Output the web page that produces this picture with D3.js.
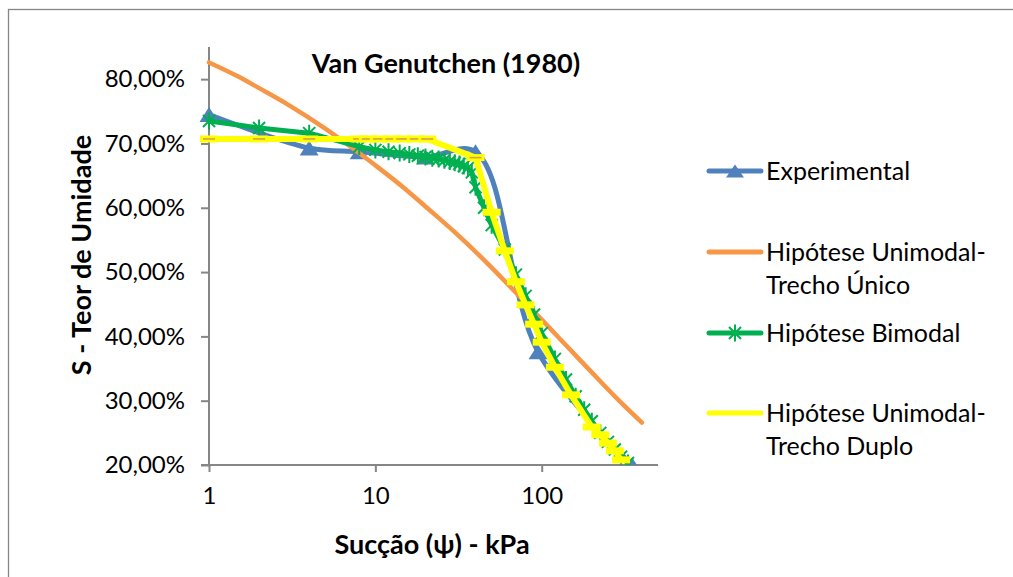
<!DOCTYPE html>
<html>
<head>
<meta charset="utf-8">
<script src="https://cdn.jsdelivr.net/npm/d3@7/dist/d3.min.js"></script>
<style>
  html, body { margin: 0; padding: 0; background: #fff; }
  svg { display: block; }
  text { font-family: Lato, "Open Sans", sans-serif; fill: #000; }
</style>
</head>
<body>
<svg id="chart" width="1013" height="577"></svg>
<script>
// Suction (kPa) and degree of saturation for each series
const kpaExp = [1, 4, 8, 20, 40, 95, 350];
const sExp   = [0.745, 0.693, 0.687, 0.679, 0.687, 0.376, 0.200];

const kpaUni = [1, 1.5, 2, 3, 5, 7, 10, 15, 20, 30, 50, 70, 100, 150, 200, 300, 400];
const sUni   = [0.826, 0.804, 0.786, 0.760, 0.723, 0.696, 0.666, 0.630, 0.602, 0.562, 0.507, 0.468, 0.426, 0.378, 0.344, 0.297, 0.266];

const kpaBim = [1, 2, 4, 8, 10, 12, 14, 16, 18, 20, 22, 24, 26, 28, 30, 32, 34, 36, 38,
                40, 45, 50, 60, 70, 80, 90, 100, 120, 140, 160, 180, 200, 225, 250, 275, 300, 330];
const sBim   = [0.735, 0.724, 0.716, 0.695, 0.690, 0.687, 0.685, 0.683, 0.681, 0.679, 0.677, 0.676, 0.674, 0.672, 0.670, 0.668, 0.665, 0.662, 0.655,
                0.632, 0.600, 0.573, 0.535, 0.496, 0.463, 0.434, 0.405, 0.365, 0.333, 0.307, 0.286, 0.268, 0.250, 0.236, 0.224, 0.213, 0.203];

const kpaDup = [1, 2, 4, 8, 9, 10.5, 12.5, 14.5, 17.5, 20.5, 40, 50, 60, 70, 80, 90, 100, 120, 150, 200, 225, 250, 275, 300];
const sDup   = [0.707, 0.707, 0.707, 0.707, 0.707, 0.707, 0.707, 0.707, 0.707, 0.707, 0.678,
                0.593, 0.533, 0.485, 0.449, 0.419, 0.391, 0.352, 0.309, 0.259, 0.247, 0.234, 0.222, 0.208];

const xTicks = [1, 10, 100];
const yTicks = [0.2, 0.3, 0.4, 0.5, 0.6, 0.7, 0.8];

const seriesNames = ["Experimental", "Hipótese Unimodal-\nTrecho Único", "Hipótese Bimodal", "Hipótese Unimodal-\nTrecho Duplo"];
const seriesColors = ["#4F81BD", "#F79646", "#00B050", "#FFFF00"];

const titleText = "Van Genutchen (1980)";
const xTitle = "Sucção (ψ) - kPa";
const yTitle = "S - Teor de Umidade";

const svg = d3.select("#chart");
const axisColor = "#868686";

// chart frame
svg.append("rect")
  .attr("x", 8.5).attr("y", 9.5)
  .attr("width", 1010).attr("height", 575)
  .attr("fill", "none").attr("stroke", axisColor).attr("stroke-width", 1.3);

const x = d3.scaleLog().domain([1, 500]).range([209, 658]);
const y = d3.scaleLinear().domain([0.2, 0.85]).range([465, 47]);

const pctFmt = v => d3.format(".2f")(v * 100).replace(".", ",") + "%";

// y axis
const yAxis = d3.axisLeft(y).tickValues(yTicks).tickSize(8).tickFormat(pctFmt).tickPadding(16);
const gy = svg.append("g").attr("transform", `translate(${x(1)},0)`).call(yAxis);
gy.select(".domain").attr("stroke", axisColor).attr("stroke-width", 2).attr("d", `M0,${y(0.85)}V${y(0.2)}`);
gy.selectAll(".tick line").attr("stroke", axisColor).attr("stroke-width", 2);
gy.selectAll(".tick text").attr("font-family", "Lato").attr("font-size", 24).attr("fill", "#000");

// x axis
const xAxis = d3.axisBottom(x).tickValues(xTicks).tickSize(7).tickFormat(d3.format("d")).tickPadding(15);
const gx = svg.append("g").attr("transform", `translate(0,${y(0.2)})`).call(xAxis);
gx.select(".domain").attr("stroke", axisColor).attr("stroke-width", 2).attr("d", `M${x(1) - 8},0H${x(500)}`);
gx.selectAll(".tick line").attr("stroke", axisColor).attr("stroke-width", 2);
gx.selectAll(".tick text").attr("font-family", "Lato").attr("font-size", 24).attr("fill", "#000");

// plotting clip
svg.append("clipPath").attr("id", "plotClip")
  .append("rect").attr("x", x(1) - 12).attr("y", y(0.85)).attr("width", x(500) - x(1) + 24).attr("height", y(0.2) - y(0.85));

const plot = svg.append("g").attr("clip-path", "url(#plotClip)");

const toPts = (ks, ss) => ks.map((k, i) => [x(k), y(ss[i])]);

const triPath = (w, h) => `M0,${-h / 2}L${w / 2},${h / 2}L${-w / 2},${h / 2}Z`;
const starPath = r => {
  const d = r * Math.cos(Math.PI / 4);
  return `M0,${-r}V${r}M${-d},${-d}L${d},${d}M${-d},${d}L${d},${-d}`;
};

// Experimental — smoothed line with triangle markers
const ptsExp = toPts(kpaExp, sExp);
plot.append("path")
  .attr("d", d3.line().curve(d3.curveCatmullRom.alpha(0.5))(ptsExp))
  .attr("fill", "none").attr("stroke", seriesColors[0]).attr("stroke-width", 5)
  .attr("stroke-linejoin", "round").attr("stroke-linecap", "round");
plot.selectAll(".tri").data(ptsExp).enter().append("path")
  .attr("transform", d => `translate(${d[0]},${d[1]})`)
  .attr("d", triPath(19, 15)).attr("fill", seriesColors[0]);

// Unimodal single stretch — smooth curve
const ptsUni = toPts(kpaUni, sUni);
plot.append("path")
  .attr("d", d3.line().curve(d3.curveMonotoneX)(ptsUni))
  .attr("fill", "none").attr("stroke", seriesColors[1]).attr("stroke-width", 4.5)
  .attr("stroke-linecap", "round");

// Bimodal — straight segments with star markers
const ptsBim = toPts(kpaBim, sBim);
plot.append("path")
  .attr("d", d3.line()(ptsBim))
  .attr("fill", "none").attr("stroke", seriesColors[2]).attr("stroke-width", 5)
  .attr("stroke-linejoin", "round").attr("stroke-linecap", "round");
plot.selectAll(".star").data(ptsBim).enter().append("path")
  .attr("transform", d => `translate(${d[0]},${d[1]})`)
  .attr("d", starPath(8.5)).attr("fill", "none")
  .attr("stroke", seriesColors[2]).attr("stroke-width", 2);

// Unimodal double stretch — straight segments with dash markers
const ptsDup = toPts(kpaDup, sDup);
plot.append("path")
  .attr("d", d3.line()(ptsDup))
  .attr("fill", "none").attr("stroke", seriesColors[3]).attr("stroke-width", 6)
  .attr("stroke-linejoin", "round");
const dashG = plot.selectAll(".dash").data(ptsDup).enter().append("g")
  .attr("transform", d => `translate(${d[0]},${d[1]})`);
dashG.append("rect").attr("x", -9).attr("y", -3.5).attr("width", 18).attr("height", 7).attr("fill", seriesColors[3]);
dashG.filter((d, i) => {
    const a = ptsDup[Math.max(0, i - 1)], b = ptsDup[i];
    return i === 0 || Math.abs((b[1] - a[1]) / (b[0] - a[0])) < 0.6;
  })
  .append("line").attr("x1", -6).attr("x2", 6).attr("y1", 0).attr("y2", 0)
  .attr("stroke", "#D9A04A").attr("stroke-width", 1.6);

// title
svg.append("text").attr("x", 446).attr("y", 73).attr("text-anchor", "middle")
  .attr("font-size", 27).attr("font-weight", "bold").text(titleText);

// axis titles
svg.append("text").attr("x", 432).attr("y", 554).attr("text-anchor", "middle")
  .attr("font-size", 27).attr("font-weight", "bold").text(xTitle);
svg.append("text").attr("transform", "translate(91,255) rotate(-90)").attr("text-anchor", "middle")
  .attr("font-size", 27).attr("font-weight", "bold").text(yTitle);

// legend
const legendRows = [171, 252, 333, 413];
const lg = svg.append("g");
seriesNames.forEach((name, i) => {
  const ly = legendRows[i];
  lg.append("line").attr("x1", 709).attr("x2", 761).attr("y1", ly).attr("y2", ly)
    .attr("stroke", seriesColors[i]).attr("stroke-width", 5).attr("stroke-linecap", "round");
  if (i === 0) lg.append("path").attr("transform", `translate(735,${ly})`).attr("d", triPath(18, 13)).attr("fill", seriesColors[0]);
  if (i === 2) lg.append("path").attr("transform", `translate(735,${ly})`).attr("d", starPath(8.5)).attr("fill", "none")
    .attr("stroke", seriesColors[2]).attr("stroke-width", 2);
  const t = lg.append("text").attr("x", 766).attr("y", ly + 9).attr("font-size", 25);
  name.split("\n").forEach((ln, j) => {
    t.append("tspan").attr("x", 766).attr("dy", j === 0 ? 0 : 33).text(ln);
  });
});
</script>
</body>
</html>
